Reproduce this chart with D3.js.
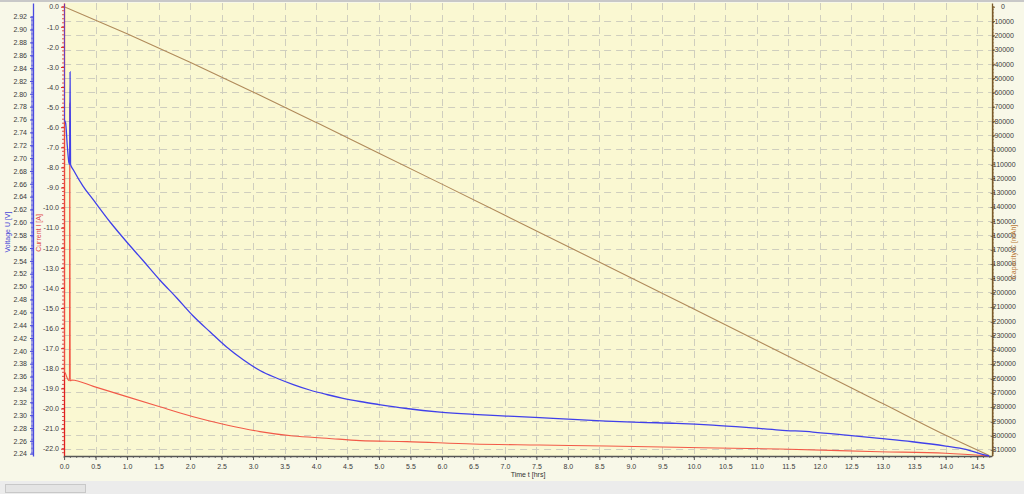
<!DOCTYPE html>
<html><head><meta charset="utf-8">
<script src="https://cdn.jsdelivr.net/npm/d3@7"></script>
<style>
html,body{margin:0;padding:0;background:#f8f8e8;}
svg{display:block;}
text{font-family:"Liberation Sans",Arial,sans-serif;}
</style></head>
<body>
<svg id="c" width="1024" height="494"></svg>
<script>
// ---- data ----
const voltT = [0,0.004,0.025,0.05,0.078,0.088,0.095,0.102,0.148,0.30,0.465,0.73,0.995,1.26,1.52,1.79,2.05,2.32,2.58,2.85,3.11,3.37,3.64,3.90,4.17,4.43,4.70,5.00,5.44,5.97,6.49,7.02,7.55,8.08,8.61,9.14,9.72,10.30,10.83,11.36,11.89,12.42,12.95,13.47,14.00,14.32,14.53,14.69];
const voltV = [2.940,2.760,2.754,2.720,2.692,2.690,2.834,2.690,2.6815,2.6565,2.6348,2.6005,2.5694,2.5398,2.5103,2.4823,2.4542,2.4293,2.4060,2.3858,2.3694,2.3578,2.3476,2.3391,2.3321,2.3262,2.3212,2.3165,2.3103,2.3048,2.3013,2.2986,2.2960,2.2935,2.2908,2.2888,2.2873,2.2846,2.2810,2.2768,2.2737,2.2690,2.2639,2.2586,2.2519,2.2468,2.2406,2.2364];

const currT = [0,0.004,0.02,0.06,0.085,0.09,0.097,0.104,0.12,0.465,0.995,1.52,2.05,2.58,3.11,3.64,4.17,4.70,5.44,6.49,7.55,8.61,9.72,11.36,12.95,14.00,14.69];
const currI = [0,-18.15,-18.25,-18.55,-18.62,-4.8,-18.6,-18.62,-18.58,-18.90,-19.41,-19.91,-20.41,-20.82,-21.15,-21.37,-21.48,-21.60,-21.65,-21.77,-21.82,-21.87,-21.93,-22.02,-22.15,-22.23,-22.36];

const capT = [0,1,2,3,4,5,6,7,8,9,10,11,12,13,14,14.69];
const capC = [0,-19000,-38900,-59700,-81000,-102550,-124250,-146050,-167900,-189800,-211750,-233750,-255800,-277950,-300150,-314300];

const xTicks = d3.range(0,30).map(i => i*0.5);
const vTicks = d3.range(0,35).map(i => 2.24 + i*0.02);
const iTicks = d3.range(-22,1,1);
const cTicks = d3.range(-310000,1,10000);

// ---- layout ----
const svg = d3.select("#c");
const L = 64.1, R = 991.7, T = 3, B = 456;
const x = d3.scaleLinear().domain([0,14.73]).range([L,R]);
const yV = d3.scaleLinear().domain([2.2364,2.9413]).range([B,T]);
const yI = d3.scaleLinear().domain([-22.365,0.184]).range([B,T]);
const yC = d3.scaleLinear().domain([-314636,2591]).range([B,T]);

svg.append("rect").attr("width",1024).attr("height",494).attr("fill","#f8f8e8");
svg.append("line").attr("x1",0).attr("x2",1024).attr("y1",1).attr("y2",1).attr("stroke","#c8c8c8").attr("stroke-width",2);
svg.append("rect").attr("x",0).attr("y",481).attr("width",1024).attr("height",13).attr("fill","#ececec");
svg.append("rect").attr("x",5.5).attr("y",484.5).attr("width",80).attr("height",8).attr("fill","#e4e4e4").attr("stroke","#c8c8c8");

svg.append("rect").attr("x",L).attr("y",T).attr("width",R-L).attr("height",B-T).attr("fill","#faf8d2");

// grid
const g = svg.append("g").attr("stroke","#cfcebe").attr("stroke-width",1).attr("stroke-dasharray","7,5");
xTicks.filter(d=>d>0).forEach(d=>{
  g.append("line").attr("x1",Math.round(x(d))+0.5).attr("x2",Math.round(x(d))+0.5).attr("y1",T).attr("y2",B);
});
cTicks.filter(d=>d<0).forEach(d=>{
  g.append("line").attr("x1",L).attr("x2",R).attr("y1",Math.round(yC(d))+0.5).attr("y2",Math.round(yC(d))+0.5);
});

// axes
function styleAxis(sel, color, textColor){
  sel.selectAll("path.domain").attr("stroke",color).attr("stroke-width",1.3);
  sel.selectAll(".tick line").attr("stroke",color);
  sel.selectAll("text").attr("fill",textColor).style("font-size","7px").style("font-family","'Liberation Sans',Arial,sans-serif");
}
function minor(vals, scale, x0, dir, len, color, vertical){
  const m = svg.append("g").attr("stroke",color).attr("stroke-width",0.8);
  vals.forEach(v=>{
    const p = scale(v);
    if(vertical) m.append("line").attr("x1",x0).attr("x2",x0+dir*len).attr("y1",p).attr("y2",p);
    else m.append("line").attr("y1",x0).attr("y2",x0+dir*len).attr("x1",p).attr("x2",p);
  });
}
minor(d3.range(0,341).map(i=>2.24+i*0.002), yV, 33, -1, 2, "#5a5ae0", true);
minor(d3.range(0,112).map(i=>-22.2+i*0.2), yI, 64, -1, 2, "#d03030", true);
minor(d3.range(0,315).map(i=>-314000+i*1000), yC, 992, 1, 2, "#8a6a3a", true);
minor(d3.range(0,148).map(i=>i*0.1), x, 456, 1, 2, "#555", false);

const axV = svg.append("g").attr("transform","translate(33,0)")
  .call(d3.axisLeft(yV).tickValues(vTicks).tickFormat(d=>d.toFixed(2)).tickSize(3).tickSizeOuter(0).tickPadding(3));
styleAxis(axV,"#4a4ae0","#3a3a3a");
const axI = svg.append("g").attr("transform","translate(64,0)")
  .call(d3.axisLeft(yI).tickValues(iTicks).tickFormat(d=>d.toFixed(1)).tickSize(3).tickSizeOuter(0).tickPadding(2));
styleAxis(axI,"#e02020","#3a3a3a");
const axC = svg.append("g").attr("transform","translate(992,0)")
  .call(d3.axisRight(yC).tickValues(cTicks).tickFormat(d=>String(d)).tickSize(3).tickSizeOuter(0));
styleAxis(axC,"#7a5a2a","#3a3a3a");
axC.selectAll("text").attr("text-anchor","middle").attr("x",11);
const axX = svg.append("g").attr("transform","translate(0,456)")
  .call(d3.axisBottom(x).tickValues(xTicks).tickFormat(d=>d.toFixed(1)).tickSize(4).tickSizeOuter(0).tickPadding(4));
styleAxis(axX,"#555","#3a3a3a");

// axis titles
svg.append("text").attr("transform","translate(10,232) rotate(-90)").attr("text-anchor","middle")
  .attr("fill","#4848d8").style("font-size","7px").text("Voltage  U  [V]");
svg.append("text").attr("transform","translate(41,233) rotate(-90)").attr("text-anchor","middle")
  .attr("fill","#e04848").style("font-size","7px").text("Current  I  [A]");
svg.append("text").attr("transform","translate(1016,252) rotate(-90)").attr("text-anchor","middle")
  .attr("fill","#b87838").style("font-size","7px").text("Capacity  C  [mAh]");
svg.append("text").attr("x",528).attr("y",477).attr("text-anchor","middle")
  .attr("fill","#333").style("font-size","7px").text("Time  t  [hrs]");

// series
svg.append("clipPath").attr("id","pc").append("rect").attr("x",L).attr("y",T-1).attr("width",R-L+1).attr("height",B-T+2);
const lineC = d3.line().x(d=>x(d[0])).y(d=>yC(d[1])).curve(d3.curveMonotoneX);
const lineI = d3.line().x(d=>x(d[0])).y(d=>yI(d[1])).curve(d3.curveMonotoneX);
const lineV = d3.line().x(d=>x(d[0])).y(d=>yV(d[1])).curve(d3.curveMonotoneX);

svg.append("path").datum(capT.map((t,i)=>[t,capC[i]])).attr("d",lineC)
  .attr("fill","none").attr("stroke","#b08a5a").attr("stroke-width",1.1).attr("clip-path","url(#pc)");
svg.append("path").datum(currT.map((t,i)=>[t,currI[i]])).attr("d",lineI)
  .attr("fill","none").attr("stroke","#f25a48").attr("stroke-width",1.1).attr("clip-path","url(#pc)");
svg.append("path").datum(voltT.map((t,i)=>[t,voltV[i]])).attr("d",lineV)
  .attr("fill","none").attr("stroke","#4040ea").attr("stroke-width",1.3).attr("clip-path","url(#pc)");
</script>
</body></html>
